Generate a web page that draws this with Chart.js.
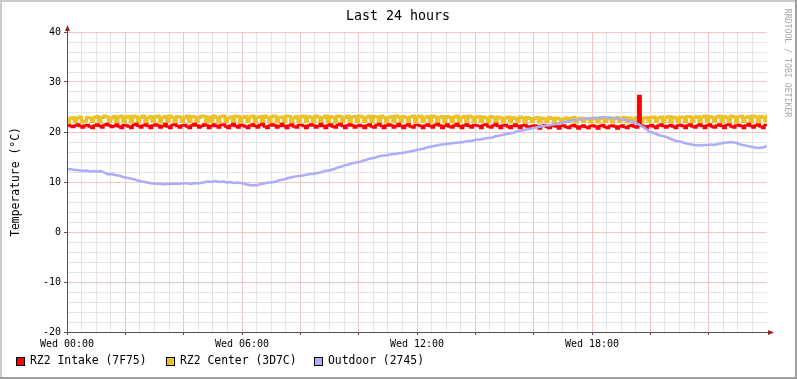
<!DOCTYPE html>
<html><head><meta charset="utf-8">
<script src="https://cdn.jsdelivr.net/npm/chart.js@4"></script>
<style>
html,body{margin:0;padding:0;background:#fff;}
#wrap{position:relative;width:797px;height:379px;overflow:hidden;background:#fff;font-family:"DejaVu Sans Mono",monospace;color:#000;}
canvas{position:absolute;left:0;top:0;}
.t{position:absolute;white-space:nowrap;line-height:1;}
.bt{position:absolute;left:0;top:0;width:797px;height:2px;background:#cbcbcb;}
.bl{position:absolute;left:0;top:0;width:2px;height:379px;background:#cbcbcb;}
.bb{position:absolute;left:0;bottom:0;width:797px;height:2px;background:#a0a0a0;}
.br{position:absolute;right:0;top:0;width:2px;height:379px;background:#a0a0a0;}
.sq{position:absolute;width:7px;height:7px;border:1px solid #000;}
</style></head>
<body><div id="wrap">
<canvas id="c" width="797" height="379"></canvas>
<div class="bt"></div><div class="bl"></div><div class="bb"></div><div class="br"></div>
<div class="t" id="title" style="left:398px;top:16px;transform:translate(-50%,-50%);font-size:13.3px;">Last 24 hours</div>
<div class="t" id="ytitle" style="left:16px;top:182px;transform:translate(-50%,-50%) rotate(-90deg);font-size:11.4px;">Temperature (°C)</div>
<div class="t" id="wm" style="left:788px;top:63px;transform:translate(-50%,-50%) rotate(90deg);font-size:8.2px;color:#a8a8a8;">RRDTOOL / TOBI OETIKER</div>
<div id="legend"></div>
</div>
<script>
// ---- data ----
const stepMinutes = 5;
const tickLabels = ['Wed 00:00', 'Wed 06:00', 'Wed 12:00', 'Wed 18:00'];
const tickMinutes = [0, 360, 720, 1080];
const seriesNames = ['RZ2 Intake (7F75)', 'RZ2 Center (3D7C)', 'Outdoor (2745)'];

const intake = [
21.4,21.2,21.0,21.3,21.5,21.2,20.9,21.3,21.4,21.1,20.8,21.3,
21.5,21.2,20.9,21.4,21.6,21.3,21.0,21.2,21.5,21.1,20.8,21.4,
21.3,21.1,20.8,21.4,21.6,21.2,20.9,21.3,21.5,21.2,20.8,21.3,
21.5,21.3,20.9,21.2,21.6,21.1,20.8,21.4,21.5,21.2,20.9,21.3,
21.4,21.1,20.8,21.3,21.6,21.3,20.9,21.2,21.5,21.3,20.8,21.2,
21.5,21.2,20.9,21.4,21.5,21.1,20.8,21.3,21.6,21.2,20.9,21.4,
21.3,21.1,20.8,21.3,21.5,21.2,20.9,21.4,21.6,21.1,20.8,21.3,
21.5,21.3,20.9,21.2,21.6,21.2,20.8,21.3,21.5,21.1,20.9,21.4,
21.4,21.2,20.8,21.3,21.5,21.3,20.9,21.2,21.6,21.2,20.8,21.3,
21.5,21.1,20.9,21.4,21.6,21.2,20.8,21.3,21.5,21.3,20.9,21.2,
21.4,21.2,20.8,21.3,21.5,21.1,20.9,21.4,21.6,21.2,20.8,21.3,
21.5,21.3,20.9,21.2,21.6,21.2,20.8,21.3,21.5,21.1,20.9,21.4,
21.4,21.2,20.8,21.3,21.5,21.2,20.9,21.4,21.6,21.3,20.8,21.2,
21.5,21.1,20.9,21.3,21.6,21.2,20.8,21.3,21.5,21.2,20.9,21.4,
21.3,21.2,20.8,21.4,21.5,21.1,20.9,21.3,21.6,21.2,20.8,21.3,
21.4,21.1,20.8,21.2,21.5,21.2,20.8,21.3,21.4,21.1,20.8,21.2,
21.3,21.1,20.7,21.2,21.4,21.0,20.8,21.2,21.4,21.1,20.7,21.2,
21.3,21.0,20.8,21.2,21.4,21.1,20.7,21.1,21.3,21.0,20.8,21.2,
21.3,21.1,20.7,21.2,21.4,21.0,20.8,21.2,21.3,21.1,20.7,21.1,
21.3,21.0,20.8,21.2,21.4,21.1,20.9,27.2,21.3,21.1,20.8,21.2,
21.4,21.1,20.8,21.3,21.5,21.2,20.9,21.2,21.4,21.1,20.8,21.3,
21.4,21.2,20.8,21.3,21.5,21.1,20.9,21.3,21.5,21.2,20.8,21.3,
21.5,21.1,20.9,21.3,21.5,21.2,20.8,21.4,21.5,21.1,20.9,21.3,
21.4,21.2,20.8,21.3,21.6,21.2,20.9,21.3,21.5,21.1,20.8,21.4,
21.6];

const center = [
22.0,22.7,22.9,22.1,22.8,23.0,22.0,22.2,22.9,22.8,22.1,22.9,
23.1,22.0,22.9,23.2,23.0,22.1,22.8,23.1,22.0,23.0,23.2,22.1,
22.9,23.1,22.0,23.2,23.0,22.1,22.9,23.2,22.0,22.8,23.1,22.1,
23.0,23.2,22.0,22.9,23.1,22.1,23.2,22.9,22.0,23.1,23.0,22.1,
22.8,23.2,22.0,23.1,23.0,22.1,22.9,23.2,23.1,22.0,23.0,22.1,
23.2,22.9,22.0,23.1,23.2,22.1,22.8,23.0,22.0,23.2,23.1,22.0,
22.9,23.1,22.1,23.0,23.2,22.0,22.9,23.1,22.1,23.2,22.9,22.0,
23.1,23.2,22.0,22.9,23.0,22.1,23.2,23.1,22.0,22.8,23.1,22.1,
23.0,23.2,22.1,23.1,22.9,22.0,23.2,23.0,22.1,22.9,23.2,22.0,
23.1,22.9,22.0,23.2,23.1,22.1,22.9,23.2,22.0,23.0,23.1,22.1,
23.2,23.0,22.1,22.9,23.2,22.0,23.1,23.0,22.1,23.2,22.9,22.0,
22.9,23.1,22.0,23.2,23.0,22.1,23.1,22.9,22.0,23.0,23.2,22.1,
23.0,23.2,22.1,22.9,23.1,22.0,23.2,23.0,22.1,22.9,23.1,22.0,
23.1,22.9,22.0,23.0,23.2,22.1,22.9,23.1,22.0,23.2,23.0,22.1,
22.9,23.1,22.1,23.0,22.8,22.0,23.1,22.9,22.1,23.0,22.8,22.0,
22.8,23.0,22.0,22.9,22.7,22.1,23.0,22.8,22.0,22.9,22.7,22.1,
22.7,22.9,22.0,22.8,22.6,22.1,22.9,22.7,22.0,22.8,22.6,22.0,
22.6,22.8,22.1,22.7,22.9,22.0,22.6,22.8,22.1,22.7,22.6,22.0,
22.8,22.6,22.0,22.7,22.8,22.1,22.6,22.8,22.0,22.7,22.9,22.1,
22.7,22.9,22.0,22.8,22.6,22.1,22.9,22.7,22.0,22.8,22.9,22.1,
22.9,23.0,22.1,22.8,23.0,22.0,22.9,23.1,22.1,23.0,22.8,22.0,
23.0,22.9,22.0,23.1,23.0,22.1,22.9,23.1,22.0,23.0,23.2,22.1,
23.1,22.9,22.1,23.0,23.2,22.0,23.1,22.9,22.1,23.2,23.0,22.0,
23.0,23.2,22.1,22.9,23.1,22.0,23.2,23.0,22.1,23.1,22.9,22.2,
23.6];

const outdoor = [
12.5,12.6,12.5,12.4,12.4,12.3,12.3,12.2,12.3,12.2,12.1,12.2,
12.1,12.1,12.2,12.0,11.7,11.5,11.6,11.5,11.4,11.3,11.2,11.0,
10.9,10.8,10.7,10.6,10.5,10.3,10.2,10.1,10.0,9.9,9.8,9.7,
9.7,9.6,9.7,9.6,9.5,9.6,9.6,9.7,9.6,9.7,9.6,9.7,
9.7,9.8,9.7,9.6,9.7,9.8,9.7,9.8,9.9,10.0,10.1,10.0,
10.1,10.2,10.1,10.0,10.1,10.0,9.9,10.0,9.9,9.8,9.9,9.8,
9.8,9.6,9.5,9.4,9.3,9.4,9.3,9.5,9.6,9.7,9.8,9.9,
9.9,10.0,10.1,10.3,10.4,10.5,10.6,10.8,10.9,11.0,11.1,11.2,
11.2,11.3,11.4,11.5,11.6,11.6,11.7,11.8,11.9,12.0,12.2,12.3,
12.3,12.5,12.6,12.8,13.0,13.1,13.3,13.4,13.5,13.7,13.8,13.9,
14.0,14.1,14.3,14.4,14.6,14.7,14.8,14.9,15.1,15.2,15.3,15.3,
15.4,15.5,15.6,15.6,15.7,15.8,15.8,15.9,16.0,16.1,16.2,16.3,
16.4,16.5,16.6,16.7,16.9,17.0,17.1,17.2,17.3,17.4,17.5,17.5,
17.6,17.7,17.7,17.8,17.8,17.9,17.9,18.0,18.1,18.2,18.2,18.3,
18.4,18.5,18.5,18.6,18.7,18.8,18.8,18.9,19.1,19.2,19.3,19.4,
19.5,19.6,19.7,19.8,19.9,20.1,20.2,20.3,20.4,20.5,20.6,20.7,
20.8,20.9,21.0,21.1,21.2,21.3,21.3,21.4,21.5,21.6,21.7,21.8,
21.9,22.0,22.1,22.2,22.3,22.4,22.4,22.5,22.6,22.6,22.7,22.7,
22.7,22.8,22.8,22.9,22.9,23.0,22.9,22.9,22.8,22.8,22.7,22.6,
22.5,22.4,22.4,22.3,22.2,22.0,21.8,21.6,21.3,21.0,20.7,20.3,
20.0,19.9,19.7,19.5,19.3,19.2,19.1,18.9,18.7,18.5,18.3,18.2,
18.1,18.0,17.8,17.7,17.6,17.5,17.4,17.3,17.4,17.3,17.4,17.4,
17.4,17.5,17.4,17.5,17.6,17.7,17.8,17.9,17.9,18.0,17.9,17.9,
17.7,17.5,17.4,17.3,17.2,17.1,17.0,16.9,16.8,16.8,16.9,17.0,
17.3];

const colors = ['#FF0000', '#EBC22C', '#ADADF8'];

// ---- legend ----
const legendX = [16, 166, 314];
const leg = document.getElementById('legend');
seriesNames.forEach((n, i) => {
  const s = document.createElement('div');
  s.className = 'sq';
  s.style.left = legendX[i] + 'px';
  s.style.top = '357px';
  s.style.background = colors[i];
  leg.appendChild(s);
  const t = document.createElement('div');
  t.className = 't';
  t.style.left = (legendX[i] + 14) + 'px';
  t.style.top = '361px';
  t.style.transform = 'translateY(-50%)';
  t.style.fontSize = '11.4px';
  t.textContent = n;
  leg.appendChild(t);
});

const toPts = arr => arr.map((v, i) => ({x: i * stepMinutes, y: v}));
const MINOR = '#e4e4e4';
const MAJOR = '#f5c4c4';

const axesPlugin = {
  id: 'rrdAxes',
  afterDatasetsDraw(chart) {
    const {ctx, chartArea: {left, top, right, bottom}} = chart;
    ctx.save();
    ctx.strokeStyle = '#505050';
    ctx.lineWidth = 1;
    ctx.beginPath();
    ctx.moveTo(left + 0.5, bottom + 3);
    ctx.lineTo(left + 0.5, top - 3);
    ctx.moveTo(left - 3, bottom + 0.5);
    ctx.lineTo(right + 3, bottom + 0.5);
    ctx.stroke();
    ctx.fillStyle = '#9a2020';
    ctx.beginPath();
    ctx.moveTo(left - 2, top - 1);
    ctx.lineTo(left + 3, top - 1);
    ctx.lineTo(left + 0.5, top - 7);
    ctx.closePath();
    ctx.fill();
    ctx.beginPath();
    ctx.moveTo(right + 1, bottom - 2);
    ctx.lineTo(right + 1, bottom + 3);
    ctx.lineTo(right + 7, bottom + 0.5);
    ctx.closePath();
    ctx.fill();
    ctx.restore();
  }
};

new Chart(document.getElementById('c'), {
  type: 'line',
  data: {
    datasets: [
      {label: seriesNames[2], data: toPts(outdoor), borderColor: colors[2], borderWidth: 2.5, pointRadius: 0, order: 0},
      {label: seriesNames[0], data: toPts(intake), borderColor: colors[0], borderWidth: 2.5, pointRadius: 0, stepped: true, order: 1},
      {label: seriesNames[1], data: toPts(center), borderColor: colors[1], borderWidth: 3, pointRadius: 0, stepped: true, order: 2}
    ]
  },
  options: {
    responsive: false,
    animation: false,
    events: [],
    layout: {padding: {top: 32, right: 30, bottom: 0, left: 0}},
    plugins: {legend: {display: false}, title: {display: false}, tooltip: {enabled: false}},
    scales: {
      x: {
        type: 'linear', min: 0, max: 1440,
        afterFit(s) { s.height = 47; },
        border: {display: false},
        grid: {
          color: c => (c.tick.value === 0 || c.tick.value === 1440) ? 'rgba(0,0,0,0)' : (c.tick.value % 120 === 0 ? MAJOR : MINOR),
          tickLength: 3,
          tickColor: c => (c.tick.value % 120 === 0 && c.tick.value < 1440) ? '#505050' : 'rgba(0,0,0,0)'
        },
        ticks: {
          stepSize: 30, autoSkip: false, maxRotation: 0, padding: 3,
          color: '#000',
          font: {family: 'DejaVu Sans Mono', size: 10},
          callback: v => { const k = tickMinutes.indexOf(v); return k >= 0 ? tickLabels[k] : ''; }
        }
      },
      y: {
        type: 'linear', min: -20, max: 40,
        afterFit(s) { s.width = 67; },
        border: {display: false},
        grid: {
          color: c => c.tick.value === -20 ? 'rgba(0,0,0,0)' : (c.tick.value % 10 === 0 ? MAJOR : MINOR),
          tickLength: 3,
          tickColor: c => c.tick.value % 10 === 0 ? '#505050' : 'rgba(0,0,0,0)'
        },
        ticks: {
          stepSize: 2, autoSkip: false, padding: 3,
          color: '#000',
          font: {family: 'DejaVu Sans Mono', size: 10},
          callback: v => v % 10 === 0 ? String(v) : ''
        }
      }
    }
  },
  plugins: [axesPlugin]
});
</script>
</body></html>
